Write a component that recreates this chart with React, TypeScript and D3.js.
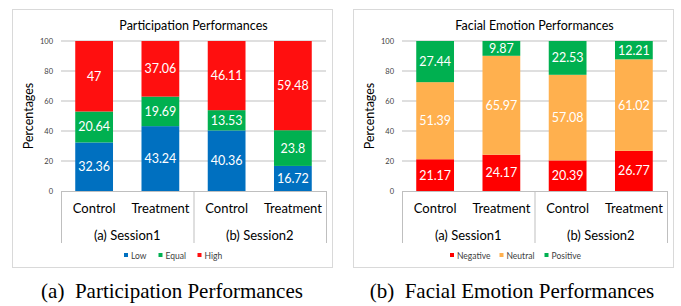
import React from 'react'
import * as d3 from 'd3'

// categories
const groups = ['Control', 'Treatment', 'Control', 'Treatment']
const sessions = ['(a) Session1', '(b) Session2']
const yTicks = [0, 20, 40, 60, 80, 100]

// participation performances
const lowVals = [32.36, 43.24, 40.36, 16.72]
const equalVals = [20.64, 19.69, 13.53, 23.8]
const highVals = [47, 37.06, 46.11, 59.48]

// facial emotion performances
const negativeVals = [21.17, 24.17, 20.39, 26.77]
const neutralVals = [51.39, 65.97, 57.08, 61.02]
const positiveVals = [27.44, 9.87, 22.53, 12.21]

const FONT = 'Lato, "Open Sans", sans-serif'

type Series = { name: string; values: number[]; color: string }

function Panel({ x0, title, series, caption, captionX, legendX }: {
  x0: number; title: string; series: Series[]; caption: string; captionX: number; legendX: number[]
}) {
  const left = x0 + 49
  const right = x0 + 314
  const top = 41
  const bottom = 191

  const x = d3.scaleBand().domain(d3.range(groups.length).map(String)).range([left, right]).paddingInner(0.43).paddingOuter(0.215)
  const y = d3.scaleLinear().domain([0, 100]).range([bottom, top])
  const band = (right - left) / groups.length

  const rows = groups.map((g, i) => {
    const r: any = { idx: String(i) }
    series.forEach(s => { r[s.name] = s.values[i] })
    return r
  })
  const stacked = d3.stack().keys(series.map(s => s.name))(rows)

  return (
    <g>
      <rect x={x0 + 0.5} y={9.5} width={320} height={258} fill="#fff" stroke="#d9d9d9" />
      <text x={(left + right) / 2} y={30} textAnchor="middle" fontSize={12.5} fontFamily={FONT} fill="#000">{title}</text>
      {yTicks.map(t => (
        <g key={t}>
          {t > 0 && <line x1={left} x2={right} y1={y(t)} y2={y(t)} stroke="#bfbfbf" />}
          <text x={left - 8} y={y(t) + 2.5} textAnchor="end" fontSize={7.5} fontFamily={FONT} fill="#404040">{t}</text>
        </g>
      ))}
      <text transform={`translate(${x0 + 21},${(top + bottom) / 2}) rotate(-90)`} textAnchor="middle" fontSize={12.5} fontFamily={FONT} fill="#000">Percentages</text>
      {stacked.map((layer, si) => layer.map((d, i) => {
        const v = d[1] - d[0]
        return (
          <g key={`${si}-${i}`}>
            <rect x={x(String(i))} y={y(d[1])} width={x.bandwidth()} height={y(d[0]) - y(d[1])} fill={series[si].color} />
            <text x={(x(String(i)) as number) + x.bandwidth() / 2} y={(y(d[0]) + y(d[1])) / 2 + 4.5} textAnchor="middle" fontSize={12.5} fontFamily={FONT} fill="#fff">{String(v === Math.round(v) ? v : +v.toFixed(2))}</text>
          </g>
        )
      }))}
      <line x1={left} x2={right} y1={bottom + 0.5} y2={bottom + 0.5} stroke="#bfbfbf" />
      {[0, 2, 4].map(k => (
        <line key={k} x1={left + k * band + 0.5} x2={left + k * band + 0.5} y1={bottom} y2={243} stroke="#bfbfbf" />
      ))}
      {groups.map((g, i) => (
        <text key={i} x={(x(String(i)) as number) + x.bandwidth() / 2} y={213} textAnchor="middle" fontSize={13} fontFamily={FONT} fill="#000">{g}</text>
      ))}
      {sessions.map((s, i) => (
        <text key={s} x={left + band * (2 * i + 1)} y={239.5} textAnchor="middle" fontSize={13} fontFamily={FONT} fill="#000">{s}</text>
      ))}
      {series.map((s, i) => (
        <g key={s.name}>
          <rect x={legendX[i]} y={253} width={4} height={4} fill={s.color} />
          <text x={legendX[i] + 7} y={258.5} fontSize={8.5} fontFamily={FONT} fill="#404040">{s.name}</text>
        </g>
      ))}
      <text x={captionX} y={298} textAnchor="middle" fontSize={21} fontFamily='"Liberation Serif", serif' fill="#000" style={{ whiteSpace: 'pre' }}>{caption}</text>
    </g>
  )
}

export default function App() {
  const partSeries: Series[] = [
    { name: 'Low', values: lowVals, color: '#0070c0' },
    { name: 'Equal', values: equalVals, color: '#00b050' },
    { name: 'High', values: highVals, color: '#ff0f0f' },
  ]
  const emoSeries: Series[] = [
    { name: 'Negative', values: negativeVals, color: '#ff0000' },
    { name: 'Neutral', values: neutralVals, color: '#ffb04e' },
    { name: 'Positive', values: positiveVals, color: '#00b050' },
  ]
  return (
    <svg width={681} height={306} style={{ position: 'absolute', left: 0, top: 0, background: '#fff' }}>
      <Panel x0={12} title="Participation Performances" series={partSeries} caption="(a)  Participation Performances" captionX={172} legendX={[124, 158.5, 197.5]} />
      <Panel x0={353} title="Facial Emotion Performances" series={emoSeries} caption="(b)  Facial Emotion Performances" captionX={512} legendX={[450, 499.5, 544.5]} />
    </svg>
  )
}
